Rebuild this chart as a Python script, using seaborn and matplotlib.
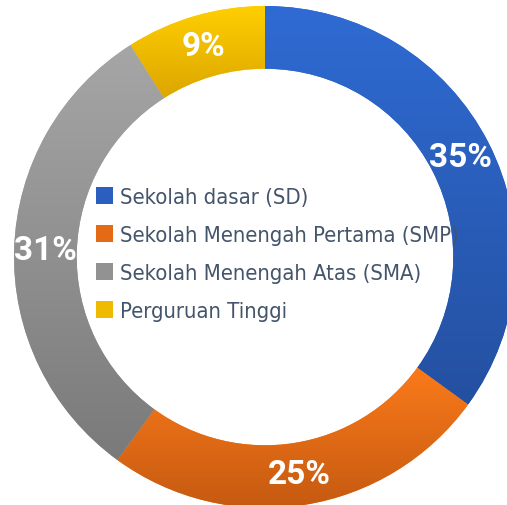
import matplotlib
matplotlib.use("Agg")
import matplotlib.pyplot as plt
import matplotlib.patches as mpatches
from matplotlib import font_manager
from matplotlib.colors import LinearSegmentedColormap
import numpy as np
import seaborn as sns

categories = ["Sekolah dasar (SD)", "Sekolah Menengah Pertama (SMP)",
              "Sekolah Menengah Atas (SMA)", "Perguruan Tinggi"]
values = [35, 25, 31, 9]
top_colors = ["#2f6bd3", "#fb7a1a", "#a6a6a6", "#ffcf00"]
bottom_colors = ["#2450a0", "#c55a11", "#7a7a7a", "#dca600"]

sns.set_theme(style="white")
plt.rcParams["font.family"] = ["Roboto", "DejaVu Sans"]

# a regular-weight condensed face for the legend, if the system has one
cond = [f for f in font_manager.fontManager.ttflist
        if ("Condensed" in f.name or "Narrow" in f.name
            or str(f.stretch) in ("condensed", "semi-condensed"))
        and f.weight in (400, "normal", "regular") and f.style == "normal"]
if cond:
    legend_prop = font_manager.FontProperties(fname=cond[0].fname, size=15.8)
else:
    legend_prop = font_manager.FontProperties(family="Roboto", size=15.5)

fig = plt.figure(figsize=(5.07, 5.06), dpi=100)
ax = fig.add_axes([0, 0, 1, 1])

# center at pixel (265, 258), radius 251 px
r_px = 251.0
ax.set_aspect("equal")
ax.axis("off")

wedges, _ = ax.pie(values, startangle=90, counterclock=False, radius=1.0,
                   colors=top_colors,
                   wedgeprops=dict(width=0.25, edgecolor="none"))

# vertical gradient inside each wedge
for w, c1, c2 in zip(wedges, top_colors, bottom_colors):
    bb = w.get_path().get_extents(w.get_transform()).transformed(ax.transData.inverted())
    cmap = LinearSegmentedColormap.from_list("g", [c2, c1])
    grad = np.linspace(0, 1, 256).reshape(-1, 1)
    im = ax.imshow(grad, cmap=cmap, origin="lower", aspect="auto",
                   extent=[bb.x0, bb.x1, bb.y0, bb.y1], zorder=2)
    im.set_clip_path(w)

ax.set_xlim(-265 / r_px, (507 - 265) / r_px)
ax.set_ylim(-(506 - 258) / r_px, 258 / r_px)

# percentage labels at the ring middle
total = sum(values)
cum = 0
for v in values:
    mid = (cum + v / 2) / total * 2 * np.pi
    cum += v
    rr = 0.875
    ax.text(rr * np.sin(mid), rr * np.cos(mid), f"{v}%", color="white",
            fontsize=24, fontweight="bold", ha="center", va="center", zorder=5)

handles = [mpatches.Patch(facecolor=c, edgecolor="none") for c in
           ["#2a5fbf", "#e56a15", "#929292", "#efbb00"]]
leg = ax.legend(handles, categories, loc="upper left",
                bbox_to_anchor=(96 / 507, 1 - 188 / 506),
                frameon=False, prop=legend_prop, borderpad=0, borderaxespad=0,
                handlelength=0.78, handleheight=0.78, handletextpad=0.33,
                labelspacing=0.82)
for t in leg.get_texts():
    t.set_color("#44546a")

fig.savefig("out.png", dpi=100)
